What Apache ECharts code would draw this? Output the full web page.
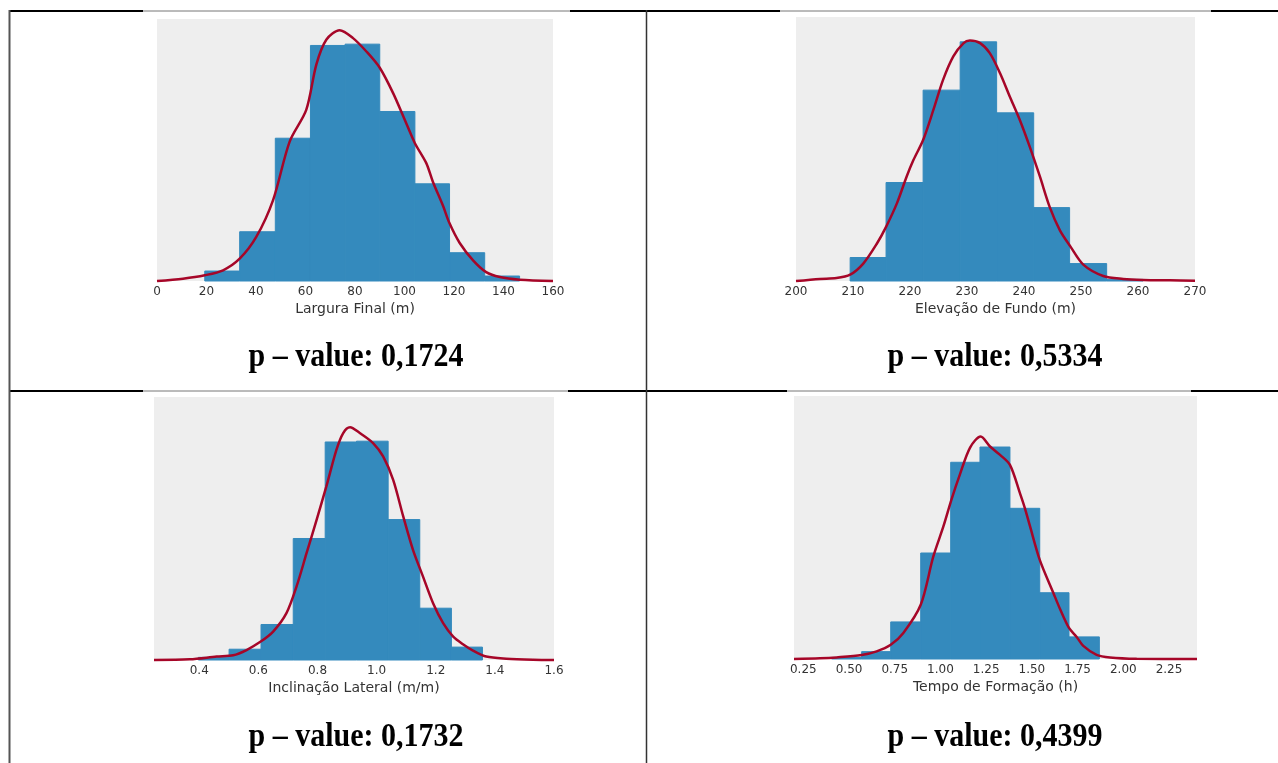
<!DOCTYPE html>
<html>
<head>
<meta charset="utf-8">
<title>Histogramas</title>
<script src="https://cdn.jsdelivr.net/npm/echarts@6/dist/echarts.min.js"></script>
<style>
  html, body { margin: 0; padding: 0; background: #fff; }
  #main { width: 1278px; height: 763px; }
</style>
</head>
<body>
<div id="main"></div>
<script>
// bin edges / heights (height in % of plot height)
const larguraEdges = [19.3, 33.4, 47.8, 62.0, 76.0, 90.0, 104.2, 118.2, 132.4, 146.5];
const larguraHist = [3.8, 18.8, 54.5, 89.9, 90.4, 64.7, 37.1, 10.8, 1.9];
const larguraKde = [[0, 0], [10.5, 0.9], [19.3, 2.2], [26.7, 4.1], [33.4, 8.5], [40.1, 16.8], [46.9, 30.9], [53.6, 53.2], [60.3, 65.3], [64.4, 82.7], [68.4, 92.1], [73.8, 95.7], [79.2, 92.7], [84.6, 87.6], [90, 81.4], [95.4, 71.7], [100.7, 60.2], [104.2, 52.6], [108.8, 45.0], [111.5, 37.8], [115.6, 28.6], [118.2, 22.0], [122.3, 14.5], [127.7, 7.9], [133, 3.4], [138.5, 1.5], [146.5, 0.5], [160, 0]];

const elevacaoEdges = [209.5, 215.8, 222.3, 228.8, 235.2, 241.7, 248.0, 254.5, 260.9];
const elevacaoHist = [8.9, 37.3, 72.3, 90.6, 63.7, 27.8, 6.6, 0.6];
const elevacaoKde = [[200, 0], [204.2, 0.8], [207.1, 1.1], [209.5, 2.4], [211.8, 6.6], [214.2, 14.2], [215.8, 20.5], [217.7, 29.4], [219.4, 39.5], [220.6, 45.8], [222.3, 53.4], [224.1, 64.8], [225.8, 76.2], [227.6, 85.1], [229.4, 90.1], [230.5, 91.1], [232.3, 90.1], [234.0, 86.3], [235.8, 78.7], [237.5, 69.9], [239.3, 60.8], [241.0, 50.9], [242.8, 39.5], [244.5, 28.1], [246.3, 19.2], [248.1, 13.2], [250.4, 6.2], [253.9, 1.9], [257.4, 0.8], [260.9, 0.4], [265.6, 0.25], [270, 0.1]];

const inclinacaoEdges = [0.397, 0.501, 0.609, 0.718, 0.826, 0.932, 1.039, 1.146, 1.253, 1.358];
const inclinacaoHist = [1.0, 4.1, 13.5, 46.2, 82.9, 83.2, 53.4, 19.7, 4.9];
const inclinacaoKde = [[0.247, 0], [0.368, 0.25], [0.459, 1.3], [0.515, 1.8], [0.56, 3.8], [0.608, 7.0], [0.65, 10.8], [0.695, 17.8], [0.729, 27.9], [0.763, 40.6], [0.797, 53.3], [0.830, 66.0], [0.864, 79.9], [0.887, 86.3], [0.910, 88.5], [0.943, 86.3], [0.988, 82.5], [1.022, 77.4], [1.056, 68.5], [1.090, 54.6], [1.123, 41.9], [1.157, 31.7], [1.191, 21.6], [1.225, 14.0], [1.259, 8.9], [1.292, 6.0], [1.326, 3.6], [1.371, 1.3], [1.439, 0.5], [1.529, 0.1], [1.6, 0]];

const tempoEdges = [0.405, 0.569, 0.728, 0.892, 1.056, 1.216, 1.380, 1.543, 1.703, 1.869];
const tempoHist = [0.6, 2.8, 14.1, 40.3, 74.8, 80.6, 57.3, 25.2, 8.4];
const tempoKde = [[0.199, 0], [0.341, 0.25], [0.432, 0.6], [0.569, 1.5], [0.651, 2.9], [0.728, 5.4], [0.797, 9.9], [0.892, 20.6], [0.961, 39.0], [1.016, 50.4], [1.061, 60.8], [1.107, 70.3], [1.162, 80.4], [1.22, 84.6], [1.271, 80.8], [1.326, 77.6], [1.380, 73.8], [1.435, 63.0], [1.462, 57.3], [1.49, 50.4], [1.543, 37.7], [1.617, 25.2], [1.654, 19.0], [1.703, 11.8], [1.745, 8.4], [1.781, 5.0], [1.854, 1.6], [1.927, 0.6], [2.073, 0.1], [2.403, 0]];

const axisTitles = ['Largura Final (m)', 'Elevação de Fundo (m)', 'Inclinação Lateral (m/m)', 'Tempo de Formação (h)'];
const pValues = ['p – value: 0,1724', 'p – value: 0,5334', 'p – value: 0,1732', 'p – value: 0,4399'];
const inclinacaoTicks = [0.4, 0.6, 0.8, 1.0, 1.2, 1.4, 1.6];
const tempoTicks = [0.25, 0.5, 0.75, 1.0, 1.25, 1.5, 1.75, 2.0, 2.25];

const BLUE = '#348ABD';
const RED = '#A60628';

const toBins = (edges, heights) => heights.map((h, i) => [edges[i], edges[i + 1], h]);

const panels = [
  { edges: larguraEdges, hist: larguraHist, kde: larguraKde, grid: { left: 157, top: 19, width: 396, height: 262 },
    x: { min: 0, max: 160, interval: 20 } },
  { edges: elevacaoEdges, hist: elevacaoHist, kde: elevacaoKde, grid: { left: 796, top: 17, width: 399, height: 264 },
    x: { min: 200, max: 270, interval: 10 } },
  { edges: inclinacaoEdges, hist: inclinacaoHist, kde: inclinacaoKde, grid: { left: 154, top: 397, width: 400, height: 263 },
    x: { min: 0.247, max: 1.6, ticks: inclinacaoTicks, digits: 1 } },
  { edges: tempoEdges, hist: tempoHist, kde: tempoKde, grid: { left: 794, top: 396, width: 403, height: 263 },
    x: { min: 0.199, max: 2.403, ticks: tempoTicks, digits: 2 } }
];

const grids = [], xAxes = [], yAxes = [], series = [];
panels.forEach((p, i) => {
  grids.push(Object.assign({ show: true, backgroundColor: '#eeeeee', borderWidth: 0 }, p.grid));
  const label = {
    color: '#333', fontSize: 12, fontFamily: 'DejaVu Sans', margin: 5,
    formatter: p.x.digits ? (v) => Number(v).toFixed(p.x.digits) : null
  };
  if (p.x.ticks) label.customValues = p.x.ticks;
  const xa = {
    type: 'value', gridIndex: i, min: p.x.min, max: p.x.max,
    name: axisTitles[i], nameLocation: 'middle', nameGap: 21,
    nameTextStyle: { color: '#333', fontSize: 14, fontFamily: 'DejaVu Sans' },
    axisLine: { show: false }, axisTick: { show: false }, splitLine: { show: false },
    axisLabel: label
  };
  if (p.x.interval) xa.interval = p.x.interval;
  xAxes.push(xa);
  yAxes.push({ type: 'value', gridIndex: i, min: 0, max: 100, show: false, splitLine: { show: false } });

  series.push({
    type: 'custom', xAxisIndex: i, yAxisIndex: i, z: 2,
    data: toBins(p.edges, p.hist),
    encode: { x: [0, 1], y: 2 },
    renderItem: (params, api) => {
      const a = api.coord([api.value(0), api.value(2)]);
      const b = api.coord([api.value(1), 0]);
      return {
        type: 'rect',
        shape: { x: a[0], y: a[1], width: b[0] - a[0], height: b[1] - a[1] },
        style: { fill: BLUE, stroke: BLUE, lineWidth: 1 }
      };
    }
  });
  series.push({
    type: 'line', xAxisIndex: i, yAxisIndex: i, z: 3,
    data: p.kde, showSymbol: false, smooth: 0.3,
    lineStyle: { color: RED, width: 2.5 }, clip: false
  });
});

// table rules of the document around the figures
const rule = (x1, y1, x2, y2, color, w) => ({
  type: 'line', silent: true, z: 100,
  shape: { x1: x1, y1: y1, x2: x2, y2: y2 }, style: { stroke: color, lineWidth: w }
});
const graphics = [
  rule(9, 11, 143, 11, '#000', 2), rule(143, 11, 570, 11, '#777', 1),
  rule(570, 11, 780, 11, '#000', 2), rule(780, 11, 1211, 11, '#777', 1),
  rule(1211, 11, 1278, 11, '#000', 2),
  rule(9, 391, 143, 391, '#000', 2), rule(143, 391, 568, 391, '#777', 1),
  rule(568, 391, 787, 391, '#000', 2), rule(787, 391, 1191, 391, '#777', 1),
  rule(1191, 391, 1278, 391, '#000', 2),
  rule(9.5, 10, 9.5, 763, '#555', 2),
  rule(646.5, 10, 646.5, 763, '#333', 1.5)
];
const textPos = [[356, 357], [995, 357], [356, 737], [995, 737]];
pValues.forEach((t, i) => {
  graphics.push({
    type: 'text', x: textPos[i][0], y: textPos[i][1], scaleY: 1.1, z: 100, silent: true,
    style: { text: t, fill: '#000', font: 'bold 30px "Liberation Serif"', textAlign: 'center', textVerticalAlign: 'middle' }
  });
});

const chart = echarts.init(document.getElementById('main'));
chart.setOption({
  animation: false,
  grid: grids,
  xAxis: xAxes,
  yAxis: yAxes,
  series: series,
  graphic: graphics
});
</script>
</body>
</html>
